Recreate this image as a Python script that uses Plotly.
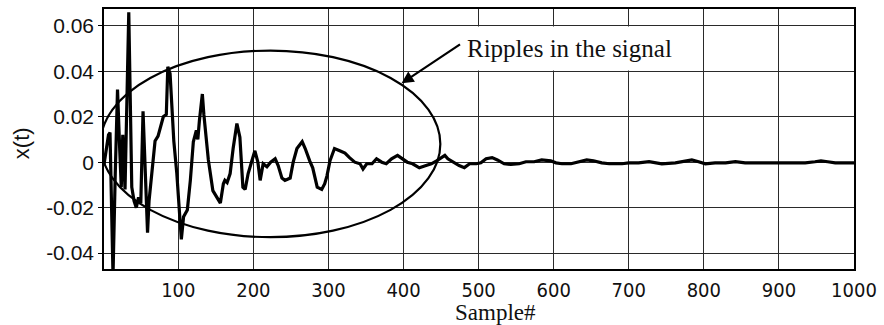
import plotly.graph_objects as go

# Signal samples (sample index, amplitude)
sample = [1, 4, 7, 9, 13, 16, 19, 22, 24, 26, 29, 34, 38, 41, 44, 47, 50, 53, 56, 59,
          61, 65, 69, 73, 76, 80, 84, 86, 89, 94, 98, 104, 107, 112, 116, 120, 124, 126, 128, 132,
          134, 140, 146, 152, 156, 160, 162, 165, 169, 173, 178, 182, 186, 189, 193, 198, 202, 206, 209, 213,
          218, 223, 229, 233, 238, 242, 249, 253, 258, 265, 269, 275, 279, 285, 291, 295, 298, 302, 308, 315,
          322, 328, 335, 342, 346, 351, 358, 364, 371, 377, 384, 392, 399, 405, 412, 421, 430, 437, 444, 450,
          455, 459, 466, 474, 481, 488, 497, 503, 510, 518, 525, 534, 543, 554, 563, 574, 584, 596, 603, 611,
          623, 634, 644, 653, 664, 674, 683, 691, 700, 713, 727, 744, 762, 776, 784, 793, 802, 815, 829, 842,
          855, 869, 882, 895, 908, 922, 935, 948, 956, 965, 975, 988, 1000]
amplitude = [-0.001, 0.006, 0.012, 0.013, -0.050, -0.005, 0.032, 0.005, -0.011, 0.012, -0.012, 0.066, -0.011, -0.017, -0.020, -0.0155, -0.018, 0.0224, -0.0095, -0.031,
             -0.017, -0.005, 0.0093, 0.0115, 0.015, 0.020, 0.021, 0.042, 0.039, 0.0093, -0.005, -0.034, -0.024, -0.021, -0.008, 0.009, 0.014, 0.010, 0.018, 0.030,
             0.021, 0.001, -0.0125, -0.016, -0.018, -0.0095, -0.008, -0.009, -0.005, 0.006, 0.017, 0.011, -0.011, -0.012, -0.005, 0.0006, 0.005, 0.0, -0.008, -0.0007,
             -0.002, 0.0, 0.0015, -0.0015, -0.007, -0.008, -0.007, 0.0, 0.006, 0.009, 0.006, 0.0006, -0.0025, -0.011, -0.012, -0.0095, -0.006, 0.0006, 0.006, 0.005,
             0.004, 0.002, 0.0, -0.0007, -0.003, -0.0007, -0.0007, 0.0015, 0.0, -0.0007, 0.0015, 0.003, 0.0015, 0.0, -0.0007, -0.0025, -0.0015, -0.0007, 0.0006, 0.002,
             0.003, 0.0015, 0.0, -0.0015, -0.0024, -0.0007, -0.0007, -0.0003, 0.0015, 0.002, 0.001, -0.0007, -0.001, -0.0007, 0.0002, 0.0002, 0.001, 0.0006, -0.0003, -0.0007,
             -0.0007, 0.0002, 0.001, 0.0006, -0.0003, -0.0007, -0.0007, -0.0007, -0.0003, -0.0003, 0.0002, -0.0007, -0.0003, 0.0006, 0.001, 0.0002, -0.0007, -0.0003, -0.0003, 0.0002,
             -0.0003, -0.0003, -0.0003, -0.0003, -0.0003, -0.0003, -0.0003, 0.0002, 0.0006, 0.0002, -0.0003, -0.0003, -0.0003]

x_ticks = [100, 200, 300, 400, 500, 600, 700, 800, 900, 1000]
y_ticks = [-0.04, -0.02, 0, 0.02, 0.04, 0.06]
y_tick_text = ["-0.04", "-0.02", "0", "0.02", "0.04", "0.06"]

# Highlight ellipse around the transient part of the signal
ellipse_x = [-3.6, 449]
ellipse_y = [-0.0330, 0.0491]

W, H = 884, 325
L, R, T, B = 104, 28, 7, 56

fig = go.Figure()
fig.add_trace(go.Scatter(x=sample, y=amplitude, mode="lines",
                         line=dict(color="black", width=3.2), showlegend=False))

fig.add_shape(type="circle", xref="x", yref="y",
              x0=ellipse_x[0], x1=ellipse_x[1], y0=ellipse_y[0], y1=ellipse_y[1],
              line=dict(color="black", width=2.2))

grid_col = "#2a2a2a"
fig.update_xaxes(range=[1, 1000], tickvals=x_ticks, showgrid=True, gridcolor=grid_col, gridwidth=1.3,
                 zeroline=False, showline=True, linecolor="black", linewidth=1.6, mirror=True,
                 ticks="outside", ticklen=2, tickcolor="rgba(0,0,0,0)",
                 tickfont=dict(family="Liberation Sans Narrow, DejaVu Sans Condensed, Liberation Sans",
                               size=20, color="#111"))
fig.update_yaxes(range=[-0.047, 0.0674], tickvals=y_ticks, ticktext=y_tick_text, showgrid=True,
                 gridcolor=grid_col, gridwidth=1.3, zeroline=False, showline=True, linecolor="black",
                 linewidth=1.6, mirror=True, ticks="outside", ticklen=4, tickcolor="black",
                 tickfont=dict(family="Liberation Sans, Arial", size=21, color="#111"))


def px_x(p):
    return (p - L) / (W - L - R)


def px_y(p):
    return (H - B - p) / (H - T - B)


fig.add_annotation(xref="paper", yref="paper", x=px_x(571), y=px_y(47), text="Ripples in the signal",
                   showarrow=False, font=dict(family="Liberation Serif, Times New Roman", size=25, color="#111"),
                   bgcolor="white", borderpad=8, xanchor="center", yanchor="middle")
fig.add_annotation(xref="x", yref="y", x=397.3, y=0.0347, text="", showarrow=True,
                   axref="pixel", ayref="pixel", ax=60, ay=-40, arrowhead=2, arrowsize=1.1,
                   arrowwidth=2.2, arrowcolor="black")
fig.add_annotation(xref="paper", yref="paper", x=px_x(497), y=px_y(313), text="Sample#",
                   showarrow=False, font=dict(family="Liberation Serif, Times New Roman", size=23, color="#111"),
                   xanchor="center", yanchor="middle")
fig.add_annotation(xref="paper", yref="paper", x=px_x(22), y=px_y(142), text="x(t)", textangle=-90,
                   showarrow=False, font=dict(family="Liberation Sans, Arial", size=22, color="#111"),
                   xanchor="center", yanchor="middle")

fig.update_layout(width=W, height=H, margin=dict(l=L, r=R, t=T, b=B),
                  paper_bgcolor="white", plot_bgcolor="white")

fig.write_html("out.html")
